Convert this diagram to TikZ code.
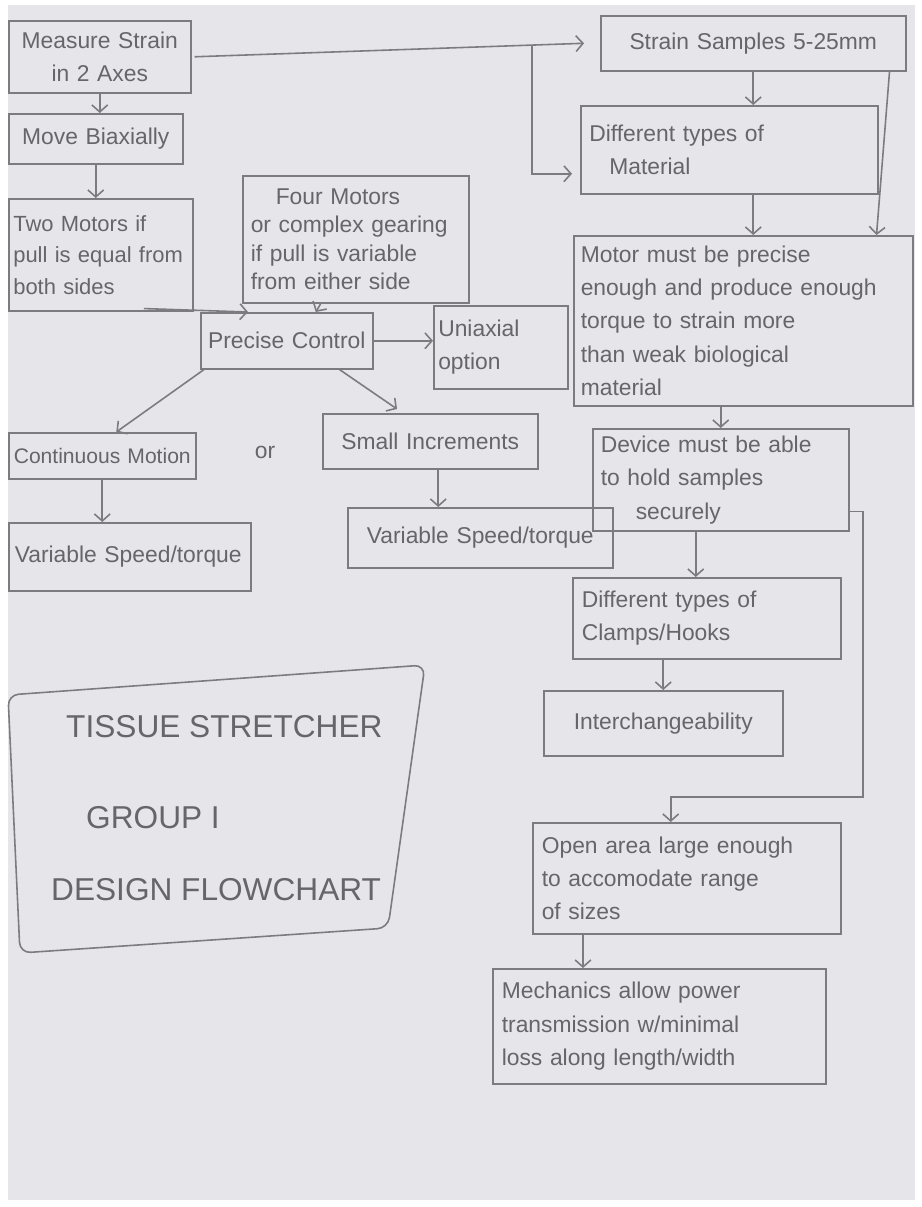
\documentclass[tikz,border=0pt]{standalone}
\usepackage{fontspec}
\setmainfont{Liberation Sans}
\usetikzlibrary{arrows.meta, calc}
\definecolor{paper}{HTML}{E6E6EA}
\definecolor{pencil}{HTML}{7C7C80}
\definecolor{lead}{HTML}{66666A}
\tikzstyle{sketchbox}=[draw=pencil, line width=0.9pt, inner sep=0pt, anchor=north west, text=lead, align=left, font=\fontsize{13}{19}\selectfont]
\tikzstyle{pull}=[draw=pencil, line width=0.9pt, -{Straight Barb[length=4pt,width=9pt]}]
\tikzstyle{titletext}=[text=lead, anchor=west, font=\fontsize{18}{22}\selectfont]

\begin{document}
\begin{tikzpicture}[x=0.02cm, y=-0.02cm]
\useasboundingbox (0,0) rectangle (921,1207);
\fill[white] (0,0) rectangle (921,1207);
\fill[paper] (8,5) rectangle (915,1200);

% left column
\node[sketchbox, minimum width=3.64cm, minimum height=1.44cm, text width=3.4cm, align=center] (measure) at (8,20) {Measure Strain\\in 2 Axes};
\node[sketchbox, minimum width=3.48cm, minimum height=1.0cm, text width=3.3cm, align=center] (biax) at (8,113) {Move Biaxially};
\node[sketchbox, minimum width=3.68cm, minimum height=2.24cm, text width=3.5cm, font=\fontsize{12.5}{18}\selectfont] (twomot) at (8,198) {Two Motors if\\pull is equal from\\both sides};
\node[sketchbox, minimum width=4.52cm, minimum height=2.54cm, text width=4.2cm, font=\fontsize{13}{16}\selectfont] (fourmot) at (242,175) {\hspace{0.5cm}Four Motors\\or complex gearing\\if pull is variable\\from either side};
\node[sketchbox, minimum width=3.44cm, minimum height=1.12cm, text width=3.2cm, align=center] (precise) at (200,312) {Precise Control};
\node[sketchbox, minimum width=2.68cm, minimum height=1.66cm, text width=2.5cm] (uniax) at (433,305) {Uniaxial\\option};
\node[sketchbox, minimum width=3.74cm, minimum height=0.92cm, text width=3.6cm, align=center, font=\fontsize{12}{16}\selectfont] (contin) at (8,432) {Continuous Motion};
\node[text=lead, font=\fontsize{13}{16}\selectfont] (orword) at (265,452) {or};
\node[sketchbox, minimum width=4.3cm, minimum height=1.1cm, text width=4.1cm, align=center] (smallinc) at (322,413) {Small Increments};
\node[sketchbox, minimum width=4.84cm, minimum height=1.36cm, text width=4.6cm] (varleft) at (8,522) {Variable Speed/torque};
\node[sketchbox, minimum width=5.3cm, minimum height=1.2cm, text width=5.0cm, align=center] (varright) at (347,507) {Variable Speed/torque};

% right column
\node[sketchbox, minimum width=6.1cm, minimum height=1.1cm, text width=5.8cm, align=center] (samples) at (600,15) {Strain Samples 5-25mm};
\node[sketchbox, minimum width=5.94cm, minimum height=1.76cm, text width=5.6cm] (material) at (580,105) {Different types of\\\hspace{0.4cm}Material};
\node[sketchbox, minimum width=6.78cm, minimum height=3.4cm, text width=6.5cm] (motor) at (573,235) {Motor must be precise\\enough and produce enough\\torque to strain more\\than weak biological\\material};
\node[sketchbox, minimum width=5.12cm, minimum height=2.04cm, text width=4.8cm] (device) at (592,428) {Device must be able\\to hold samples\\\hspace{0.7cm}securely};
\node[sketchbox, minimum width=5.36cm, minimum height=1.62cm, text width=5.0cm] (clamps) at (572,577) {Different types of\\Clamps/Hooks};
\node[sketchbox, minimum width=4.78cm, minimum height=1.3cm, text width=4.5cm, align=center] (interch) at (543,690) {Interchangeability};
\node[sketchbox, minimum width=6.16cm, minimum height=2.22cm, text width=5.8cm] (openarea) at (532,822) {Open area large enough\\to accomodate range\\of sizes};
\node[sketchbox, minimum width=6.66cm, minimum height=2.3cm, text width=6.3cm] (mechanics) at (492,968) {Mechanics allow power\\transmission w/minimal\\loss along length/width};

% title block
\draw[pencil, line width=0.9pt, rounded corners=6pt] (8,695) -- (425,665) -- (388,928) -- (20,953) -- cycle;
\node[titletext] (tissue) at (60,727) {TISSUE STRETCHER};
\node[titletext] (group) at (80,818) {GROUP I};
\node[titletext] (design) at (45,890) {DESIGN FLOWCHART};

% connectors, left
\draw[pull] (measure.south) -- (measure.south |- biax.north);
\draw[pull] (biax.south) -- (biax.south |- twomot.north);
\draw[pull] ($(twomot.south)+(43,-3)$) -- ($(precise.north west)+(48,0)$);
\draw[pull] ($(fourmot.south)+(-35,0)$) -- ($(precise.north)+(29,0)$);
\draw[pull] (precise.east) -- (uniax.west |- precise.east);
\draw[pull] ($(precise.south west)+(4,0)$) -- ($(contin.north)+(14,0)$);
\draw[pull] ($(precise.south east)+(-34,0)$) -- ($(smallinc.north west)+(75,-4)$);
\draw[pull] (contin.south) -- (contin.south |- varleft.north);
\coordinate (si) at ($(smallinc.south)+(8,0)$);
\draw[pull] (si) -- (si |- varright.north);

% connectors, right
\coordinate (branch) at (532,45);
\draw[pull] ($(measure.east)+(3,0)$) -- ($(samples.west)+(-16,0)$);
\draw[pull] (branch) |- ($(material.west)+(-8,24)$);
\draw[pull] (samples.south) -- (samples.south |- material.north);
\coordinate (mt) at ($(material.south)+(24,0)$);
\draw[pull] (mt) -- (mt |- motor.north);
\draw[pull] ($(samples.south east)+(-17,0)$) -- ($(motor.north east)+(-37,0)$);
\draw[pull] (device.north |- motor.south) -- (device.north);
\coordinate (dv) at ($(device.south)+(-25,0)$);
\draw[pull] (dv) -- (dv |- clamps.north);
\coordinate (loop) at (863,797);
\coordinate (oa) at ($(openarea.north)+(-16,0)$);
\draw[pull] ($(device.south east)+(0,-20)$) -| (loop) -| (oa);
\draw[pull] (interch.north |- clamps.south) -- (interch.north);
\coordinate (oo) at ($(openarea.south west)+(51,0)$);
\draw[pull] (oo) -- (oo |- mechanics.north);
\end{tikzpicture}
\end{document}
